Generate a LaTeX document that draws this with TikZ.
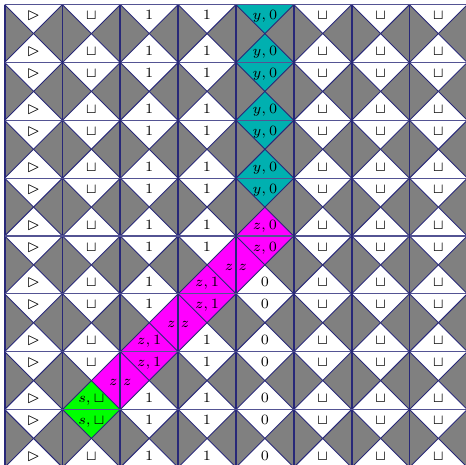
\documentclass[tikz,border=0pt]{standalone}
\usepackage{amssymb}

\definecolor{gridblue}{RGB}{40,40,120}
\definecolor{tilegrey}{RGB}{128,128,128}
\definecolor{haltcyan}{RGB}{0,176,176}
\definecolor{runmagenta}{RGB}{255,0,255}
\definecolor{startgreen}{RGB}{0,255,0}

% diamond across a horizontal edge: name, column, edge, fill, symbol
\newcommand{\hdia}[5]{%
  \fill[#4] (#2,-#3) -- ++(0.5,0.5) -- ++(0.5,-0.5) -- ++(-0.5,-0.5) -- cycle;
  \ifnum#3>0 \node[sym] (#1u) at (#2+0.5,-#3+0.21) {#5};\fi
  \ifnum#3<8 \node[sym] (#1d) at (#2+0.5,-#3-0.17) {#5};\fi
}
% diamond across a vertical edge (head moves right): name, column, row
\newcommand{\vdia}[3]{%
  \fill[runmagenta] (#2,-#3) -- ++(0.5,-0.5) -- ++(-0.5,-0.5) -- ++(-0.5,0.5) -- cycle;
  \node[sym] (#1l) at (#2-0.12,-#3-0.5) {$z$};
  \node[sym] (#1r) at (#2+0.12,-#3-0.5) {$z$};
}

\begin{document}
\begin{tikzpicture}[
sym/.style={font=\fontsize{7.5}{9}\selectfont, inner sep=0pt, text height=1.5ex, text depth=0.3ex},
cellline/.style={gridblue, line width=0.9pt},
rowline/.style={gridblue!80, line width=0.6pt},
diagline/.style={gridblue, line width=0.45pt}
]
\useasboundingbox[fill=white] (-0.08,0.08) rectangle (7.96,-7.96);

\begin{scope}
\clip (0,0) rectangle (8,-8);

%---------------- Background ----------------
\fill[tilegrey] (0,0) rectangle (8,-8);

%---------------- Tape symbols ----------------
\foreach \k in {0,...,8} {
  \hdia{a\k}{0}{\k}{white}{$\rhd$}
  \hdia{f\k}{5}{\k}{white}{$\sqcup$}
  \hdia{g\k}{6}{\k}{white}{$\sqcup$}
  \hdia{h\k}{7}{\k}{white}{$\sqcup$}
}
\foreach \k in {0,...,6,8} {\hdia{b\k}{1}{\k}{white}{$\sqcup$}}
\foreach \k in {0,...,5,7,8} {\hdia{c\k}{2}{\k}{white}{$1$}}
\foreach \k in {0,...,4,6,7,8} {\hdia{d\k}{3}{\k}{white}{$1$}}
\foreach \k in {0,...,3} {\hdia{e\k}{4}{\k}{haltcyan}{$y,0$}}
\foreach \k in {5,...,8} {\hdia{e\k}{4}{\k}{white}{$0$}}

%---------------- Head ----------------
\hdia{b7}{1}{7}{startgreen}{$s,\sqcup$}
\hdia{c6}{2}{6}{runmagenta}{$z,1$}
\hdia{d5}{3}{5}{runmagenta}{$z,1$}
\hdia{e4}{4}{4}{runmagenta}{$z,0$}
\vdia{m6}{2}{6}
\vdia{m5}{3}{5}
\vdia{m4}{4}{4}

%---------------- Diagonals ----------------
\foreach \k in {-8,...,8} {
  \draw[diagline] (\k,0) -- ++(8,-8);
  \draw[diagline] (\k+8,0) -- ++(-8,-8);
}
\end{scope}

%---------------- Grid ----------------
\foreach \k in {0,...,8} {
  \draw[rowline] (0,-\k) -- (8,-\k);
  \draw[cellline] (\k,0) -- (\k,-8);
}

\end{tikzpicture}
\end{document}
